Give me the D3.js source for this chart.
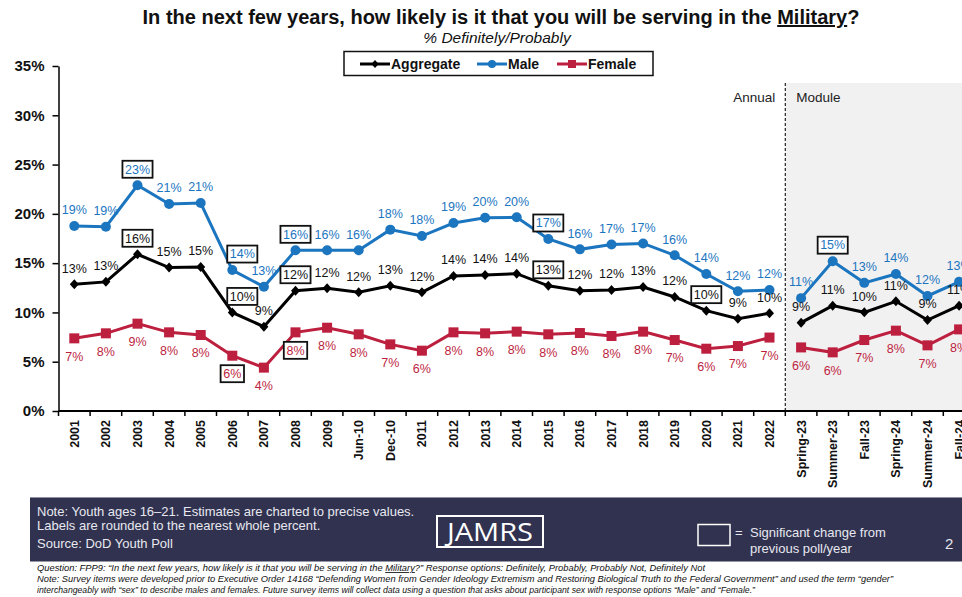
<!DOCTYPE html>
<html><head><meta charset="utf-8">
<script src="https://cdn.jsdelivr.net/npm/d3@7"></script>
<style>
html,body{margin:0;padding:0;background:#fff;overflow:hidden}
svg{display:block;font-family:"Liberation Sans",Arial,sans-serif}
</style></head><body>
<svg id="c" width="962" height="597"></svg>
<script>
const categories = ["2001","2002","2003","2004","2005","2006","2007","2008","2009","Jun-10","Dec-10","2011","2012","2013","2014","2015","2016","2017","2018","2019","2020","2021","2022","Spring-23","Summer-23","Fall-23","Spring-24","Summer-24","Fall-24"];
const aggregate = [12.85,13.1,15.9,14.55,14.6,10.0,8.55,12.2,12.45,12.04,12.7,12.04,13.7,13.8,13.93,12.7,12.2,12.27,12.58,11.57,10.18,9.37,9.91,8.96,10.69,10.01,11.13,9.23,10.69];
const male = [18.77,18.7,22.9,21.0,21.1,14.3,12.6,16.3,16.3,16.3,18.4,17.75,19.07,19.6,19.65,17.45,16.4,16.9,17.0,15.8,13.9,12.14,12.28,11.45,15.2,13.0,13.9,11.67,13.1];
const female = [7.37,7.88,8.86,7.98,7.71,5.61,4.4,7.98,8.45,7.78,6.76,6.12,7.98,7.88,8.05,7.78,7.91,7.61,8.05,7.2,6.32,6.59,7.45,6.45,5.95,7.2,8.15,6.66,8.28];
const sigAggregate = ["2003","2006","2008","2015","2020"];
const sigMale = ["2003","2006","2008","2015","Summer-23"];
const sigFemale = ["2006","2008"];
const yTicks = [0,5,10,15,20,25,30,35];
const moduleStart = "Spring-23";

const svg = d3.select("#c");
const FONT = '"Liberation Sans",Arial,sans-serif';
const plotLeft = 58.5, step = 31.6, plotTop = 66, plotBottom = 411;
const x = d3.scaleBand().domain(categories).range([plotLeft, plotLeft + step*categories.length]).paddingInner(0).paddingOuter(0);
const cx = d => x(d) + x.bandwidth()/2;
const y = d3.scaleLinear().domain([0,35]).range([plotBottom, plotTop]);

// shaded module region
const mx = x(moduleStart);
svg.append("rect").attr("x", mx).attr("y", 83).attr("width", 962 - mx).attr("height", plotBottom - 83).attr("fill", "#f2f1f2");
svg.append("line").attr("x1", mx).attr("x2", mx).attr("y1", 83).attr("y2", plotBottom)
  .attr("stroke", "#222").attr("stroke-width", 1.2).attr("stroke-dasharray", "3,2");
svg.append("text").attr("x", mx - 10).attr("y", 102).attr("text-anchor", "end")
  .attr("font-size", 13.5).attr("fill", "#222").text("Annual");
svg.append("text").attr("x", mx + 11).attr("y", 102)
  .attr("font-size", 13.5).attr("fill", "#222").text("Module");

// y axis
const yAxis = d3.axisLeft(y).tickValues(yTicks).tickFormat(d => d + "%").tickSize(6).tickSizeOuter(0);
const yg = svg.append("g").attr("transform", `translate(${plotLeft},0)`).call(yAxis);
yg.select(".domain").attr("stroke", "#000").attr("stroke-width", 1.5);
yg.selectAll(".tick line").attr("stroke", "#000").attr("stroke-width", 1.5);
yg.selectAll(".tick text").attr("font-family", FONT).attr("font-size", 15).attr("font-weight", "bold").attr("fill", "#111").attr("x", -14);

// x axis
const xg = svg.append("g").attr("transform", `translate(0,${plotBottom})`);
xg.append("line").attr("x1", plotLeft).attr("x2", 962).attr("y1", 0).attr("y2", 0).attr("stroke", "#000").attr("stroke-width", 2);
xg.selectAll("line.tk").data(categories).enter().append("line").attr("class", "tk")
  .attr("x1", d => x(d)).attr("x2", d => x(d)).attr("y1", 0).attr("y2", 5).attr("stroke", "#000").attr("stroke-width", 1.5);
xg.selectAll("text.lb").data(categories).enter().append("text").attr("class", "lb")
  .attr("transform", d => `translate(${cx(d)+4.5},9) rotate(-90)`)
  .attr("text-anchor", "end").attr("font-size", 12.5).attr("font-weight", "bold").attr("fill", "#111").text(d => d);

// series
const series = [
  {name: "Aggregate", values: aggregate, color: "#000000", sig: sigAggregate, shape: "diamond", pos: "above"},
  {name: "Male", values: male, color: "#1b75bf", sig: sigMale, shape: "circle", pos: "above"},
  {name: "Female", values: female, color: "#bd1f3f", sig: sigFemale, shape: "square", pos: "below"}
];
const nudge = {"Aggregate|2006": 10, "Male|2006": 10};

function marker(g, shape, color) {
  if (shape === "diamond") g.append("path").attr("d", "M0,-5L4.5,0L0,5L-4.5,0Z").attr("fill", color);
  else if (shape === "circle") g.append("circle").attr("r", 5).attr("fill", color);
  else g.append("rect").attr("x", -5).attr("y", -5).attr("width", 10).attr("height", 10).attr("fill", color);
}

const annualIdx = categories.indexOf(moduleStart);
series.forEach(s => {
  const g = svg.append("g");
  const annual = s.values.slice(0, annualIdx);
  const mod = s.values.slice(annualIdx);
  g.append("path").attr("d", d3.line().x((d, i) => cx(categories[i])).y(d => y(d))(annual))
    .attr("fill", "none").attr("stroke", s.color).attr("stroke-width", 3);
  g.append("path").attr("d", d3.line().x((d, i) => cx(categories[i + annualIdx])).y(d => y(d))(mod))
    .attr("fill", "none").attr("stroke", s.color).attr("stroke-width", 3);
  s.values.forEach((v, i) => {
    const c = categories[i];
    const mg = g.append("g").attr("transform", `translate(${cx(c)},${y(v)})`);
    marker(mg, s.shape, s.color);
  });
});
// labels
series.forEach(s => {
  s.values.forEach((v, i) => {
    const c = categories[i];
    const lx = cx(c) + (nudge[s.name + "|" + c] || 0);
    const ly = y(v) + (s.pos === "above" ? -16 : 18);
    const txt = Math.round(v) + "%";
    if (s.sig.includes(c)) {
      const w = txt.length * 6.7 + 10;
      svg.append("rect").attr("x", lx - w/2).attr("y", ly - 8.5).attr("width", w).attr("height", 17)
        .attr("fill", "#fff").attr("stroke", "#111").attr("stroke-width", 1.8);
    }
    svg.append("text").attr("x", lx).attr("y", ly + 4.3).attr("text-anchor", "middle")
      .attr("font-size", 12.5).attr("fill", s.color === "#000000" ? "#111" : s.color).text(txt);
  });
});

// title
const t = svg.append("text").attr("x", 501).attr("y", 24).attr("text-anchor", "middle")
  .attr("font-size", 20).attr("font-weight", "bold").attr("fill", "#111");
t.append("tspan").text("In the next few years, how likely is it that you will be serving in the ");
t.append("tspan").attr("text-decoration", "underline").text("Military");
t.append("tspan").text("?");
svg.append("text").attr("x", 497).attr("y", 43).attr("text-anchor", "middle")
  .attr("font-size", 15.5).attr("font-style", "italic").attr("fill", "#111").text("% Definitely/Probably");

// legend
svg.append("rect").attr("x", 344).attr("y", 51.5).attr("width", 309).attr("height", 24)
  .attr("fill", "#fff").attr("stroke", "#111").attr("stroke-width", 1.5);
const legX = [360, 477, 557];
series.forEach((s, k) => {
  const g = svg.append("g").attr("transform", `translate(${legX[k]},64)`);
  g.append("line").attr("x1", 0).attr("x2", 30).attr("stroke", s.color).attr("stroke-width", 3);
  const mg = g.append("g").attr("transform", "translate(15,0) scale(0.8)");
  marker(mg, s.shape, s.color);
  g.append("text").attr("x", 31).attr("y", 5).attr("font-size", 14).attr("font-weight", "bold").attr("fill", "#111").text(s.name);
});

// footer band
svg.append("rect").attr("x", 30).attr("y", 497.5).attr("width", 932).attr("height", 64).attr("fill", "#30324f");
svg.append("line").attr("x1", 30).attr("x2", 962).attr("y1", 497.5).attr("y2", 497.5).attr("stroke", "#8d8fa3").attr("stroke-width", 1);
const ft = [["Note: Youth ages 16\u201321. Estimates are charted to precise values.", 516], ["Labels are rounded to the nearest whole percent.", 530], ["Source: DoD Youth Poll", 548]];
ft.forEach(([s, yy]) => svg.append("text").attr("x", 37).attr("y", yy).attr("font-size", 13).attr("fill", "#e8e8f0").text(s));
svg.append("rect").attr("x", 437).attr("y", 516).attr("width", 106).attr("height", 31).attr("fill", "none").attr("stroke", "#fff").attr("stroke-width", 2);
svg.append("text").attr("x", 490).attr("y", 541).attr("text-anchor", "middle").attr("font-size", 26).attr("fill", "#fff")
  .attr("font-family", '"Open Sans","Liberation Sans",sans-serif').attr("font-weight", 500).attr("textLength", 86).attr("lengthAdjust", "spacingAndGlyphs").text("JAMRS");
svg.append("rect").attr("x", 698).attr("y", 524.5).attr("width", 32).attr("height", 21).attr("fill", "none").attr("stroke", "#fff").attr("stroke-width", 1.5);
svg.append("text").attr("x", 735).attr("y", 537).attr("font-size", 13).attr("fill", "#e8e8f0").text("=");
svg.append("text").attr("x", 750).attr("y", 537).attr("font-size", 13).attr("fill", "#e8e8f0").text("Significant change from");
svg.append("text").attr("x", 750).attr("y", 553).attr("font-size", 13).attr("fill", "#e8e8f0").text("previous poll/year");
svg.append("text").attr("x", 945).attr("y", 549).attr("font-size", 15).attr("fill", "#e8e8f0").text("2");

// footnotes
const fn = [
  ["Question: FPP9: \u201cIn the next few years, how likely is it that you will be serving in the ", "Military", "?\u201d Response options: Definitely,  Probably, Probably Not, Definitely Not", 571, 668],
  ["Note: Survey items were developed prior to Executive Order 14168 \u201cDefending Women from Gender Ideology Extremism and Restoring Biological Truth to the Federal Government\u201d and used the term \u201cgender\u201d", null, null, 582, 856],
  ["interchangeably with \u201csex\u201d to describe males and females. Future survey items will collect data using a question that asks about participant sex with response options \u201cMale\u201d and \u201cFemale.\u201d", null, null, 593, 718]
];
fn.forEach(([a, u, b, yy, len]) => {
  const tx = svg.append("text").attr("x", 37).attr("y", yy).attr("font-size", 8.6).attr("font-style", "italic").attr("fill", "#111")
    .attr("textLength", len).attr("lengthAdjust", "spacingAndGlyphs");
  tx.append("tspan").text(a);
  if (u) { tx.append("tspan").attr("text-decoration", "underline").text(u); tx.append("tspan").text(b); }
});
</script>
</body></html>
